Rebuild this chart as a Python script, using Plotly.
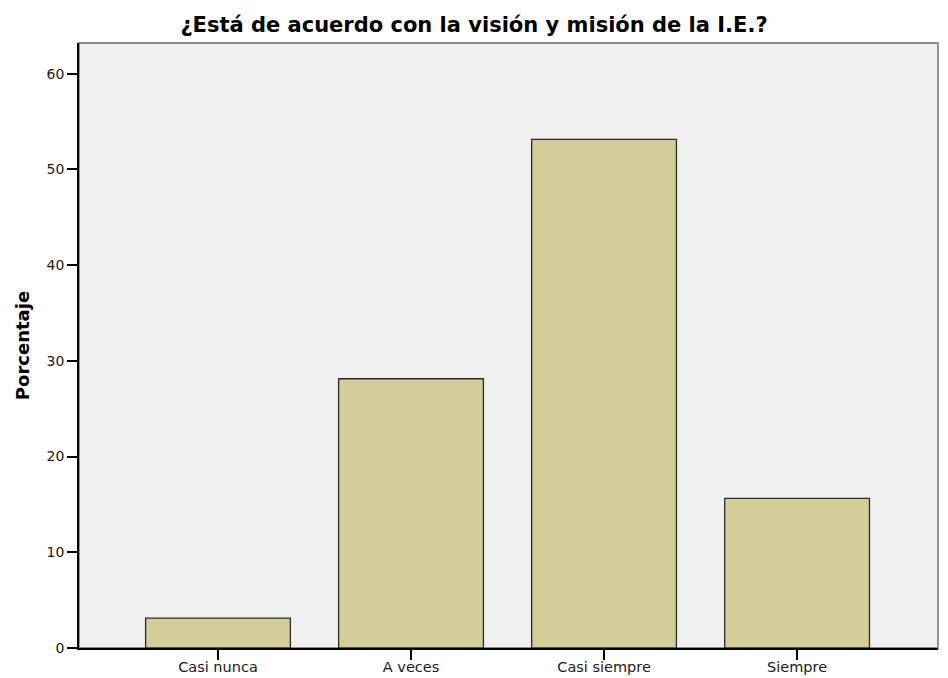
import plotly.graph_objects as go

categories = ["Casi nunca", "A veces", "Casi siempre", "Siempre"]
percentages = [3.125, 28.125, 53.125, 15.625]
y_ticks = [0, 10, 20, 30, 40, 50, 60]

FONT = "DejaVu Sans, Arial, sans-serif"

fig = go.Figure()
fig.add_trace(go.Bar(
    x=list(range(len(categories))),
    y=percentages,
    width=0.75,
    marker=dict(color="#D3CE97", line=dict(color="#2b2b2b", width=1.3)),
    hoverinfo="skip",
))

# light frame on the top/right of the plotting area
fig.add_shape(type="rect", xref="paper", yref="paper", x0=0, y0=0, x1=1, y1=1,
              line=dict(color="#8a8a8a", width=1.8), fillcolor="rgba(0,0,0,0)", layer="below")

fig.update_layout(
    width=948, height=678,
    margin=dict(l=79, r=10, t=43, b=30, autoexpand=False),
    paper_bgcolor="white",
    plot_bgcolor="#F0F0F0",
    showlegend=False,
    font=dict(family=FONT, color="#000000"),
    title=dict(text="<b>¿Está de acuerdo con la visión y misión de la I.E.?</b>",
               x=0.5, xanchor="center", y=1 - 25 / 678, yanchor="middle",
               font=dict(size=21, color="#000000", family=FONT)),
    xaxis=dict(
        range=[-0.72, 3.73],
        tickmode="array", tickvals=list(range(len(categories))), ticktext=categories,
        showgrid=False, zeroline=False, automargin=False,
        showline=True, linecolor="#000000", linewidth=1.6,
        ticks="outside", ticklen=10, tickcolor="#000000", tickwidth=1.6,
        ticklabelstandoff=-5,
        tickfont=dict(size=14.5, color="#1a1a1a"), fixedrange=True,
    ),
    yaxis=dict(
        range=[0, 63.2],
        tickmode="array", tickvals=y_ticks,
        showgrid=False, zeroline=False, automargin=False,
        showline=True, linecolor="#000000", linewidth=1.6,
        ticks="outside", ticklen=10, tickcolor="#000000", tickwidth=1.6,
        tickfont=dict(size=14, color="#1a1a1a"),
        title=dict(text="<b>Porcentaje</b>", font=dict(size=18), standoff=12),
        fixedrange=True,
    ),
)

fig.write_html("out.html")
